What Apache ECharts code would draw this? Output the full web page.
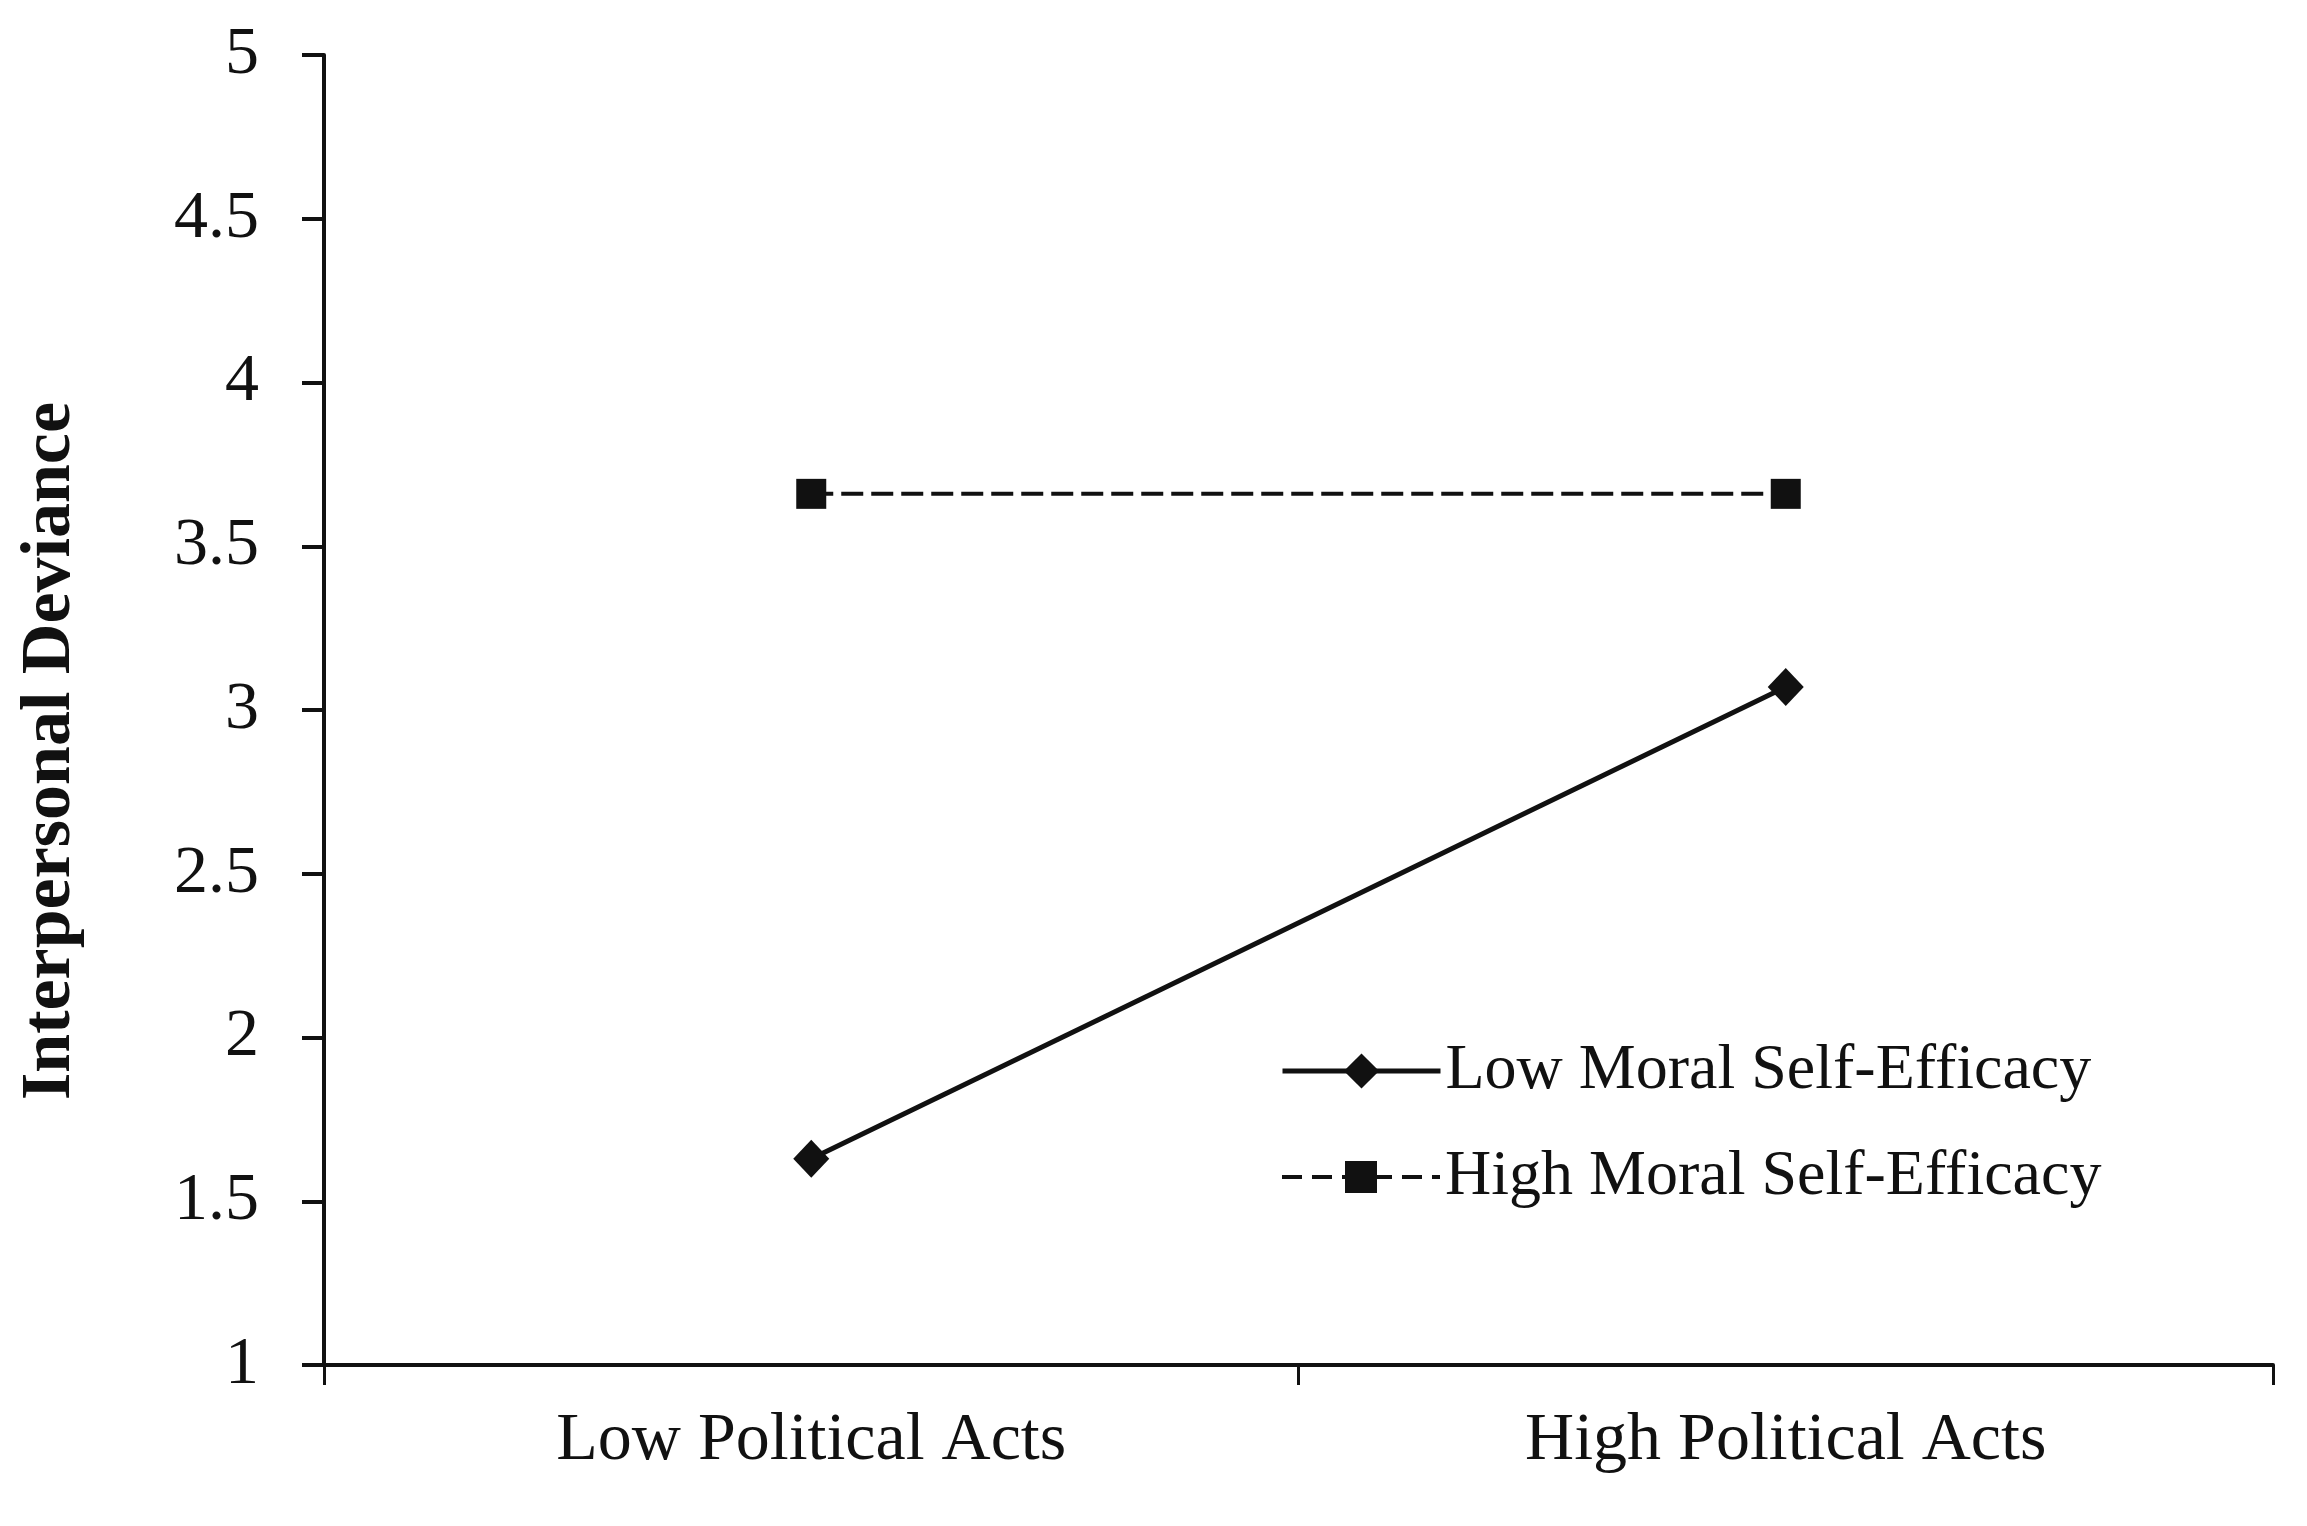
<!DOCTYPE html>
<html>
<head>
<meta charset="utf-8">
<script src="https://cdn.jsdelivr.net/npm/echarts@6/dist/echarts.min.js"></script>
<style>
html,body{margin:0;padding:0;background:#fff;}
#chart{width:2307px;height:1526px;}
</style>
</head>
<body>
<div id="chart"></div>
<script>
const categories = ['Low Political Acts', 'High Political Acts'];
const seriesNames = ['Low Moral Self-Efficacy', 'High Moral Self-Efficacy'];
const lowMoralSelfEfficacy = [1.63, 3.07];
const highMoralSelfEfficacy = [3.66, 3.66];
const yMin = 1, yMax = 5, yInterval = 0.5;
const yAxisTitle = 'Interpersonal Deviance';

const FONT = 'Liberation Serif, Times New Roman, serif';
const INK = '#111';

const chart = echarts.init(document.getElementById('chart'), null, {renderer: 'canvas'});
chart.setOption({
  animation: false,
  backgroundColor: '#fff',
  grid: {left: 324, right: 34, top: 55, bottom: 161, containLabel: false},
  legend: [
    {
      data: [seriesNames[0]], left: 1280, top: 1039, padding: 0, orient: 'vertical',
      itemWidth: 158, itemHeight: 44, selectedMode: false,
      lineStyle: {width: 5, type: 'solid'},
      textStyle: {fontFamily: FONT, fontSize: 64, color: INK, lineHeight: 64}
    },
    {
      data: [seriesNames[1]], left: 1280, top: 1145, padding: 0, orient: 'vertical',
      itemWidth: 158, itemHeight: 40, selectedMode: false,
      lineStyle: {width: 4, type: [20, 10]},
      textStyle: {fontFamily: FONT, fontSize: 64, color: INK, lineHeight: 64}
    }
  ],
  xAxis: {
    type: 'category',
    data: categories,
    boundaryGap: true,
    axisLine: {show: true, lineStyle: {color: INK, width: 4}},
    axisTick: {show: true, length: 20, lineStyle: {color: INK, width: 3}},
    axisLabel: {fontFamily: FONT, fontSize: 68, color: INK, margin: 42},
    splitLine: {show: false}
  },
  yAxis: {
    type: 'value',
    min: yMin, max: yMax, interval: yInterval,
    name: yAxisTitle,
    nameLocation: 'middle',
    nameGap: 238,
    nameTextStyle: {fontFamily: FONT, fontSize: 70, fontWeight: 'bold', color: INK, padding: [0, 82, 0, 0]},
    axisLine: {show: true, lineStyle: {color: INK, width: 4}},
    axisTick: {show: true, length: 22, lineStyle: {color: INK, width: 4}},
    axisLabel: {fontFamily: FONT, fontSize: 68, color: INK, margin: 65},
    splitLine: {show: false}
  },
  series: [
    {
      name: seriesNames[0],
      type: 'line',
      data: lowMoralSelfEfficacy,
      symbol: 'diamond',
      symbolSize: [36, 38],
      lineStyle: {color: INK, width: 5, type: 'solid'},
      itemStyle: {color: INK},
      z: 3
    },
    {
      name: seriesNames[1],
      type: 'line',
      data: highMoralSelfEfficacy,
      symbol: 'rect',
      symbolSize: 30,
      lineStyle: {color: INK, width: 4, type: [22, 8]},
      itemStyle: {color: INK},
      z: 3
    }
  ]
});
</script>
</body>
</html>
